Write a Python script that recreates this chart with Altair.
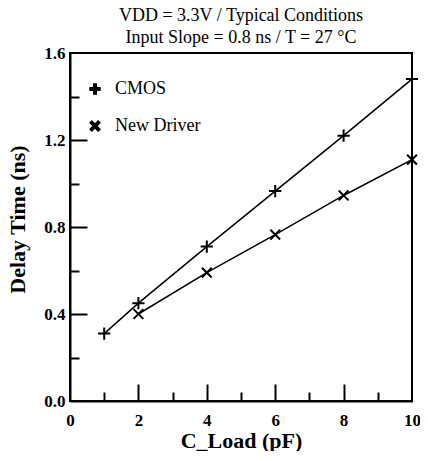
import altair as alt
import pandas as pd

# Data
cmos_x = [1, 2, 4, 6, 8, 10]
cmos_y = [0.31, 0.45, 0.71, 0.965, 1.22, 1.48]
nd_x = [2, 4, 6, 8, 10]
nd_y = [0.40, 0.59, 0.765, 0.945, 1.11]
series_names = ["CMOS", "New Driver"]

x_major_ticks = [2, 4, 6, 8]
x_minor_ticks = [1, 3, 5, 7, 9]
y_major_ticks = [0.4, 0.8, 1.2]
y_minor_ticks = [0.2, 0.6, 1.0, 1.4]
x_labels = [0, 2, 4, 6, 8, 10]
y_labels = [0.0, 0.4, 0.8, 1.2, 1.6]
x_domain = [0, 10]
y_domain = [0, 1.6]

title_lines = ["VDD = 3.3V / Typical Conditions", "Input Slope = 0.8 ns / T = 27 \u00b0C"]

df = pd.concat([
    pd.DataFrame({"x": cmos_x, "y": cmos_y, "series": series_names[0]}),
    pd.DataFrame({"x": nd_x, "y": nd_y, "series": series_names[1]}),
])

W, H = 342, 348
FONT = "Liberation Serif"

xscale = alt.Scale(domain=x_domain, nice=False, zero=False)
yscale = alt.Scale(domain=y_domain, nice=False, zero=False)

lab = dict(labelFont=FONT, labelFontSize=17, labelFontWeight="bold", labelColor="black", labelFlush=False)
ttl = dict(titleFont=FONT, titleFontSize=22, titleFontWeight="bold", titleColor="black")

# labelled axes (bottom/left) with the frame's bottom/left edges as their domain lines
xaxis = alt.Axis(orient="bottom", values=x_labels, format="d", ticks=False, domain=True,
                 domainColor="black", domainWidth=2, grid=False, labelPadding=11, zindex=3,
                 title="C_Load  (pF)", titleY=46, titleBaseline="alphabetic", **lab, **ttl)
yaxis = alt.Axis(orient="left", values=y_labels, format=".1f", ticks=False, domain=True,
                 domainColor="black", domainWidth=2, grid=False, labelPadding=5, zindex=3,
                 title="Delay Time  (ns)", titleX=-41, titleY=166, titleBaseline="bottom", **lab, **ttl)

# inward ticks: a top axis shifted onto the bottom edge, a right axis shifted onto the left edge
xtick_axis = alt.Axis(orient="top", offset=-H, values=x_major_ticks + x_minor_ticks, labels=False,
                      domain=False, grid=False, title=None, zindex=3,
                      tickColor="black", tickWidth=2,
                      tickSize={"condition": {"test": f"indexof({x_minor_ticks}, datum.value) >= 0", "value": 9},
                                "value": 17})
ytick_axis = alt.Axis(orient="right", offset=-W, values=y_major_ticks + y_minor_ticks, labels=False,
                      domain=False, grid=False, title=None, zindex=3,
                      tickColor="black", tickWidth=2,
                      tickSize={"condition": {"test": f"indexof({y_minor_ticks}, datum.value) >= 0", "value": 9},
                                "value": 17})

base = alt.Chart(df)

# top and right frame edges
edges = pd.DataFrame({"x0": [x_domain[0], x_domain[1]], "x1": [x_domain[1], x_domain[1]],
                      "y0": [y_domain[1], y_domain[0]], "y1": [y_domain[1], y_domain[1]]})
frame = alt.Chart(edges).mark_rule(color="black", strokeWidth=2).encode(
    x=alt.X("x0:Q", scale=xscale, axis=xaxis), x2="x1:Q",
    y=alt.Y("y0:Q", scale=yscale, axis=yaxis), y2="y1:Q")

lines = base.mark_line(color="black", strokeWidth=1.5).encode(
    x=alt.X("x:Q", scale=xscale, axis=xaxis),
    y=alt.Y("y:Q", scale=yscale, axis=yaxis),
    detail="series:N",
)

plus_path = "M-1,0L1,0M0,-1L0,1"
x_path = "M-0.8,-0.8L0.8,0.8M-0.8,0.8L0.8,-0.8"

points = base.mark_point(filled=False, color="black", strokeWidth=2, size=150, opacity=1).encode(
    x=alt.X("x:Q", scale=xscale, axis=xtick_axis),
    y=alt.Y("y:Q", scale=yscale, axis=ytick_axis),
    shape=alt.Shape("series:N", scale=alt.Scale(domain=series_names, range=[plus_path, x_path]),
                    legend=alt.Legend(title=None, orient="none", legendX=16, legendY=27,
                                      labelFont=FONT, labelFontSize=18, labelColor="black",
                                      symbolStrokeWidth=4, symbolSize=130, symbolStrokeColor="black",
                                      labelOffset=11, rowPadding=10, padding=0)),
)

chart = alt.layer(alt.layer(frame, lines), points).resolve_axis(x="independent", y="independent").properties(
    width=W, height=H,
    background="white",
    title=alt.TitleParams(text=title_lines, font=FONT, fontSize=18, fontWeight="normal",
                          color="black", anchor="middle", lineHeight=22, offset=-3),
    autosize=alt.AutoSizeParams(type="none"),
    padding={"left": 62, "top": 45, "right": 8, "bottom": 50},
).configure_view(stroke="black", strokeWidth=2)

chart.save("out.html", embed_options={"renderer": "svg", "actions": False})
